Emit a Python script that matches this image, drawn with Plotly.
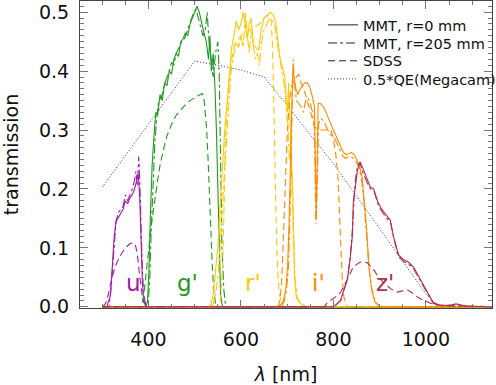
import plotly.graph_objects as go

# --- data (wavelength in nm, transmission) ---
QE_WL = [300, 350, 400, 450, 500, 550, 600, 650, 670, 700, 750, 800, 850, 900, 950, 1000, 1028]
QE_T = [0.203, 0.257, 0.31, 0.364, 0.417, 0.41, 0.402, 0.39, 0.37, 0.342, 0.292, 0.243, 0.188, 0.132, 0.078, 0.022, 0.0]

U_R0_WL = [300, 310, 318, 322, 326, 330, 335, 340, 345, 350, 355, 360, 365, 370, 375, 378, 381, 384, 387, 390, 395, 1150]
U_R0_T = [0, 0, 0.02, 0.08, 0.12, 0.145, 0.152, 0.158, 0.165, 0.18, 0.175, 0.185, 0.19, 0.2, 0.215, 0.225, 0.19, 0.11, 0.04, 0.01, 0, 0]
U_R205_WL = [300, 315, 320, 325, 330, 335, 340, 345, 350, 355, 360, 365, 370, 373, 376, 379, 381, 384, 387, 390, 395, 1150]
U_R205_T = [0, 0, 0.04, 0.1, 0.145, 0.16, 0.165, 0.17, 0.19, 0.18, 0.19, 0.2, 0.215, 0.23, 0.205, 0.255, 0.22, 0.13, 0.06, 0.02, 0, 0]
U_SDSS_WL = [300, 305, 310, 315, 320, 325, 330, 340, 350, 360, 367, 372, 376, 380, 384, 388, 395, 400, 1150]
U_SDSS_T = [0, 0.003, 0.01, 0.03, 0.045, 0.06, 0.072, 0.088, 0.1, 0.107, 0.109, 0.104, 0.09, 0.06, 0.03, 0.01, 0.002, 0, 0]

G_R0_WL = [300, 395, 398, 401, 404, 408, 412, 416, 420, 425, 430, 435, 440, 445, 450, 455, 460, 465, 470, 475,
           480, 485, 490, 495, 500, 505, 510, 515, 520, 525, 530, 533, 536, 540, 544, 547, 550, 553, 556, 560, 1150]
G_R0_T = [0, 0, 0.01, 0.06, 0.15, 0.24, 0.29, 0.33, 0.325, 0.36, 0.35, 0.38, 0.375, 0.4, 0.395, 0.42, 0.43, 0.425, 0.45, 0.455,
          0.465, 0.46, 0.48, 0.49, 0.5, 0.51, 0.5, 0.48, 0.465, 0.45, 0.42, 0.46, 0.4, 0.43, 0.37, 0.3, 0.2, 0.08, 0.02, 0, 0]
G_R205_WL = [300, 395, 400, 403, 406, 410, 414, 418, 422, 428, 432, 438, 445, 450, 455, 460, 466, 472, 478, 485,
             492, 498, 503, 508, 513, 518, 523, 527, 531, 535, 540, 545, 550, 553, 556, 559, 563, 567, 1150]
G_R205_T = [0, 0, 0.01, 0.05, 0.13, 0.22, 0.28, 0.32, 0.35, 0.355, 0.37, 0.385, 0.4, 0.415, 0.41, 0.43, 0.44, 0.45, 0.455, 0.47,
            0.485, 0.5, 0.505, 0.49, 0.47, 0.46, 0.47, 0.5, 0.45, 0.42, 0.39, 0.43, 0.45, 0.4, 0.2, 0.1, 0.03, 0, 0]
G_SDSS_WL = [300, 385, 390, 395, 400, 405, 410, 415, 420, 425, 430, 435, 440, 450, 460, 470, 480, 490, 500, 510,
             516, 520, 523, 526, 529, 532, 535, 538, 541, 545, 550, 1150]
G_SDSS_T = [0, 0, 0.02, 0.06, 0.1, 0.13, 0.16, 0.19, 0.215, 0.24, 0.26, 0.275, 0.29, 0.31, 0.325, 0.335, 0.343, 0.35, 0.355, 0.36,
            0.362, 0.355, 0.33, 0.3, 0.25, 0.2, 0.13, 0.07, 0.03, 0.005, 0, 0]

R_R0_WL = [300, 530, 535, 540, 545, 550, 555, 560, 565, 570, 575, 580, 585, 590, 595, 600, 605, 610, 614, 618, 622, 627,
           632, 638, 644, 650, 657, 664, 670, 675, 680, 685, 690, 695, 698, 701, 703, 706, 709, 712, 714, 716, 720,
           730, 740, 1150]
R_R0_T = [0, 0, 0.005, 0.02, 0.06, 0.1, 0.17, 0.24, 0.3, 0.345, 0.4, 0.44, 0.46, 0.485, 0.47, 0.48, 0.5, 0.47, 0.455, 0.48,
          0.49, 0.445, 0.44, 0.435, 0.47, 0.49, 0.495, 0.5, 0.495, 0.485, 0.45, 0.42, 0.405, 0.39, 0.35, 0.33, 0.38, 0.3,
          0.26, 0.2, 0.12, 0.05, 0.015, 0.005, 0, 0]
R_R205_WL = [300, 535, 540, 545, 550, 555, 560, 565, 570, 575, 580, 585, 590, 595, 600, 605, 610, 614, 618, 622, 627, 632,
             636, 640, 645, 650, 656, 662, 668, 674, 680, 686, 690, 695, 699, 702, 705, 708, 711, 714, 717, 722, 730,
             740, 1150]
R_R205_T = [0, 0, 0.005, 0.02, 0.05, 0.1, 0.17, 0.24, 0.3, 0.36, 0.41, 0.43, 0.45, 0.44, 0.46, 0.44, 0.5, 0.46, 0.43, 0.47,
            0.44, 0.42, 0.43, 0.41, 0.45, 0.47, 0.48, 0.49, 0.485, 0.475, 0.44, 0.41, 0.39, 0.37, 0.33, 0.3, 0.25, 0.28,
            0.18, 0.1, 0.05, 0.015, 0.005, 0, 0]
R_SDSS_WL = [300, 550, 555, 560, 563, 566, 570, 575, 580, 585, 590, 600, 610, 620, 630, 640, 650, 660, 665, 668, 671,
             673, 676, 679, 682, 686, 692, 1150]
R_SDSS_T = [0, 0, 0.01, 0.06, 0.15, 0.27, 0.34, 0.39, 0.42, 0.44, 0.45, 0.46, 0.465, 0.47, 0.475, 0.48, 0.49, 0.495, 0.49,
            0.45, 0.35, 0.25, 0.15, 0.07, 0.03, 0.01, 0, 0]

I_R0_WL = [300, 680, 686, 692, 697, 701, 704, 707, 710, 712, 715, 719, 723, 728, 733, 738, 744, 750, 755, 759, 761, 763,
           765, 767, 772, 778, 784, 790, 795, 800, 806, 811, 817, 822, 828, 833, 838, 843, 848, 853, 858, 862, 866,
           870, 873, 876, 880, 884, 890, 900, 1150]
I_R0_T = [0, 0, 0.003, 0.01, 0.03, 0.07, 0.14, 0.25, 0.36, 0.4, 0.39, 0.37, 0.36, 0.37, 0.375, 0.38, 0.38, 0.37, 0.355,
          0.34, 0.25, 0.15, 0.25, 0.345, 0.345, 0.34, 0.33, 0.318, 0.31, 0.3, 0.29, 0.28, 0.27, 0.262, 0.258, 0.26,
          0.262, 0.26, 0.254, 0.245, 0.235, 0.22, 0.19, 0.15, 0.12, 0.075, 0.045, 0.025, 0.008, 0, 0]
I_R205_WL = [300, 682, 688, 694, 699, 703, 706, 709, 711, 713, 716, 720, 725, 730, 735, 740, 745, 750, 755, 759, 762,
             765, 768, 773, 779, 785, 791, 797, 803, 809, 815, 821, 827, 833, 839, 845, 850, 856, 861, 866, 870, 874,
             878, 883, 890, 900, 1150]
I_R205_T = [0, 0, 0.003, 0.01, 0.03, 0.07, 0.15, 0.27, 0.38, 0.42, 0.38, 0.35, 0.345, 0.34, 0.33, 0.35, 0.355, 0.345,
            0.33, 0.3, 0.14, 0.2, 0.31, 0.32, 0.315, 0.305, 0.295, 0.29, 0.285, 0.275, 0.265, 0.255, 0.252, 0.255,
            0.255, 0.25, 0.245, 0.235, 0.215, 0.18, 0.14, 0.1, 0.06, 0.03, 0.01, 0, 0]
I_SDSS_WL = [300, 680, 684, 688, 692, 696, 700, 705, 710, 715, 720, 725, 730, 735, 740, 745, 750, 755, 760, 770, 780,
             790, 795, 800, 805, 810, 813, 816, 819, 823, 830, 1150]
I_SDSS_T = [0, 0, 0.01, 0.04, 0.12, 0.21, 0.29, 0.35, 0.375, 0.385, 0.39, 0.395, 0.38, 0.37, 0.36, 0.345, 0.33, 0.315,
            0.305, 0.3, 0.3, 0.3, 0.3, 0.285, 0.26, 0.22, 0.17, 0.1, 0.05, 0.015, 0, 0]

Z_R0_WL = [300, 800, 815, 830, 836, 841, 843, 848, 852, 858, 865, 873, 880, 887, 897, 906, 917, 923, 930, 941, 952, 962,
           973, 988, 1003, 1016, 1030, 1050, 1065, 1075, 1090, 1150]
Z_R0_T = [0, 0, 0.01, 0.046, 0.08, 0.12, 0.176, 0.21, 0.232, 0.246, 0.232, 0.215, 0.203, 0.2, 0.176, 0.164, 0.153,
          0.147, 0.119, 0.088, 0.08, 0.076, 0.068, 0.046, 0.024, 0.007, 0.003, 0.002, 0.005, 0.003, 0.001, 0]
Z_R205_WL = [300, 802, 817, 831, 837, 842, 845, 849, 853, 857, 864, 872, 880, 888, 897, 906, 916, 924, 931, 941, 952,
             962, 973, 988, 1003, 1016, 1030, 1150]
Z_R205_T = [0, 0, 0.012, 0.05, 0.09, 0.14, 0.19, 0.225, 0.24, 0.245, 0.228, 0.212, 0.2, 0.196, 0.173, 0.16, 0.15,
            0.142, 0.115, 0.085, 0.077, 0.073, 0.065, 0.044, 0.022, 0.006, 0.002, 0]
Z_SDSS_WL = [300, 780, 787, 800, 815, 830, 843, 858, 873, 887, 897, 910, 925, 938, 950, 960, 970, 981, 992, 1003, 1020,
             1150]
Z_SDSS_T = [0, 0, 0.007, 0.014, 0.024, 0.046, 0.068, 0.076, 0.075, 0.063, 0.051, 0.04, 0.03, 0.025, 0.027, 0.029, 0.024,
            0.017, 0.012, 0.008, 0.003, 0]

FILTERS = [
    ("u", "#a01ea6", (U_R0_WL, U_R0_T), (U_R205_WL, U_R205_T), (U_SDSS_WL, U_SDSS_T), 368),
    ("g'", "#1f9b1f", (G_R0_WL, G_R0_T), (G_R205_WL, G_R205_T), (G_SDSS_WL, G_SDSS_T), 484),
    ("r'", "#ffc800", (R_R0_WL, R_R0_T), (R_R205_WL, R_R205_T), (R_SDSS_WL, R_SDSS_T), 627),
    ("i'", "#ff8a00", (I_R0_WL, I_R0_T), (I_R205_WL, I_R205_T), (I_SDSS_WL, I_SDSS_T), 768),
    ("z'", "#b03050", (Z_R0_WL, Z_R0_T), (Z_R205_WL, Z_R205_T), (Z_SDSS_WL, Z_SDSS_T), 912),
]
LABEL_T = 0.041

DASHES = ["solid", "dashdot", "7px,4px"]
LEGEND_NAMES = ["MMT, r=0 mm", "MMT, r=205 mm", "SDSS"]
LEGEND_ROWS = [0.922, 0.863, 0.805, 0.746]  # one single-entry legend per row
FONT = "DejaVu Sans"

fig = go.Figure()

# legend-only entries (black line samples)
for i, (name, dash) in enumerate(zip(LEGEND_NAMES, DASHES)):
    fig.add_scatter(x=[None], y=[None], mode="lines", name=name,
                    legend="legend" if i == 0 else f"legend{i + 1}",
                    line=dict(color="#222", width=1, dash=dash))

fig.add_scatter(x=QE_WL, y=QE_T, mode="lines", name="0.5*QE(Megacam)", legend="legend4",
                line=dict(color="#333", width=1, dash="1px,2px"))

for label, color, r0, r205, sdss, label_x in FILTERS:
    for (wl, t), dash in zip((r0, r205, sdss), DASHES):
        fig.add_scatter(x=wl, y=t, mode="lines", showlegend=False,
                        line=dict(color=color, width=1.1, dash=dash))
    fig.add_annotation(x=label_x, y=LABEL_T, text=label, showarrow=False,
                       font=dict(family=FONT, size=23, color=color), xanchor="center", yanchor="middle")

axis_common = dict(
    showline=True, linecolor="#444", linewidth=1, mirror="allticks",
    ticks="inside", ticklen=8, tickcolor="#777", tickwidth=1,
    showgrid=False, zeroline=False, automargin=False,
    tickfont=dict(family=FONT, size=19, color="#111"),
)

fig.update_xaxes(
    range=[252, 1143], tick0=0, dtick=200,
    minor=dict(dtick=50, ticks="inside", ticklen=4, tickcolor="#777"),
    title=dict(text="<i>λ</i> [nm]", font=dict(family=FONT, size=19, color="#111"), standoff=22),
    ticklabelstandoff=14,
    **axis_common,
)
fig.update_yaxes(
    range=[-0.002, 0.519], tick0=0, dtick=0.1, tickformat=".1f",
    minor=dict(dtick=0.01, ticks="inside", ticklen=4, tickcolor="#777"),
    title=dict(text="transmission", font=dict(family=FONT, size=19, color="#111"), standoff=22),
    ticklabelstandoff=6,
    **axis_common,
)

legend_style = dict(x=0.59, xanchor="left", yanchor="middle", bgcolor="rgba(0,0,0,0)",
                    font=dict(family=FONT, size=14.5, color="#111"), itemwidth=30)
fig.update_layout(
    width=496, height=385,
    margin=dict(l=80, r=4, t=1, b=77, autoexpand=False),
    paper_bgcolor="white", plot_bgcolor="white",
    font_family=FONT,
    legend=dict(y=LEGEND_ROWS[0], **legend_style),
    legend2=dict(y=LEGEND_ROWS[1], **legend_style),
    legend3=dict(y=LEGEND_ROWS[2], **legend_style),
    legend4=dict(y=LEGEND_ROWS[3], **legend_style),
)

# the page body has a default 8px margin; drop it so the figure fills the window
fig.write_html("out.html", config={"displayModeBar": False},
               post_script="document.body.style.margin = '0';")
